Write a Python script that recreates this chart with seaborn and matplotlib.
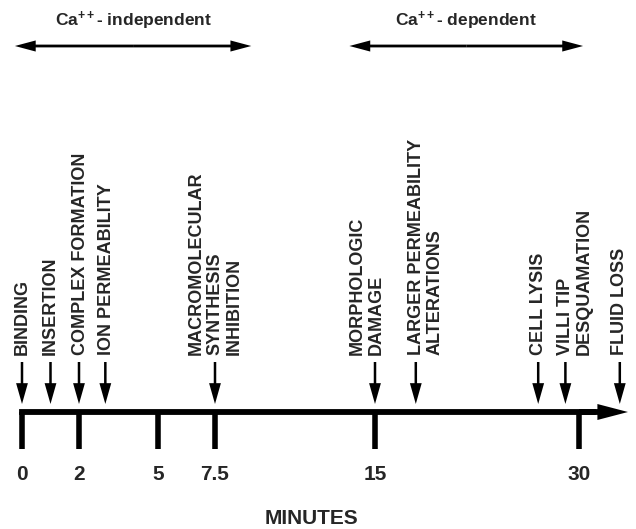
# Timeline of toxin action - Ca++ independent / dependent events

import numpy as np
import matplotlib
matplotlib.use("Agg")
import matplotlib.pyplot as plt
import seaborn as sns

# Events along the time axis (minutes)
event_minutes = [0, 1, 2, 3, 7.5, 15, 18, 27, 29, 33]
event_labels = ['BINDING', 'INSERTION', 'COMPLEX FORMATION', 'ION PERMEABILITY',
                'MACROMOLECULAR\nSYNTHESIS\nINHIBITION', 'MORPHOLOGIC\nDAMAGE',
                'LARGER PERMEABILITY\nALTERATIONS', 'CELL LYSIS',
                'VILLI TIP\nDESQUAMATION', 'FLUID LOSS']
label_shift = [0, 0, 1, 1, 0, -6, 7, 0, 7, 0]  # points, nudge of each label block

# Axis ticks
tick_minutes = [0, 2, 5, 7.5, 15, 30]
tick_labels = ['0', '2', '5', '7.5', '15', '30']

# Ca++ phases (minutes)
ca_labels = ['Ca$^{++}$- independent', 'Ca$^{++}$- dependent']
ca_start = [-0.25, 13.8]
ca_end = [9.2, 30.3]
axis_end = 33.6

# the time axis is not linear: each segment between ticks has its own spacing
knot_min = [-10, 0, 2, 5, 7.5, 15, 30, 45]
knot_pos = [-263, 22, 79, 158, 215, 375, 579, 783]


def fwd(v):
    return np.interp(v, knot_min, knot_pos)


def inv(v):
    return np.interp(v, knot_pos, knot_min)


sns.set_theme(style="white")
plt.rcParams['font.family'] = ['Liberation Sans', 'DejaVu Sans']
plt.rcParams['font.weight'] = 'bold'
plt.rcParams['mathtext.fontset'] = 'custom'
plt.rcParams['mathtext.rm'] = 'Liberation Sans:bold'
plt.rcParams['mathtext.it'] = 'Liberation Sans:bold'
plt.rcParams['mathtext.bf'] = 'Liberation Sans:bold'

fig = plt.figure(figsize=(6.36, 5.29), dpi=100)
ax = fig.add_axes([0, 0, 1, 1])
ax.set_xscale('function', functions=(fwd, inv))
ax.set_xlim(inv(0), inv(636))
ax.set_ylim(529, 0)
ax.axis('off')

# main time axis with arrow head
ax.plot([0, 31], [412, 412], color='black', lw=4.2, solid_capstyle='projecting')
ax.annotate('', xy=(axis_end, 412), xytext=(30, 412),
            arrowprops=dict(arrowstyle='simple,head_length=2.2,head_width=1.15,tail_width=0.42',
                            mutation_scale=10, fc='black', ec='none', shrinkA=0, shrinkB=0))

# ticks + labels
ax.vlines(tick_minutes, 412, 449, color='black', lw=4)
for m, t in zip(tick_minutes, tick_labels):
    ax.text(m, 480, t, ha='center', va='baseline', fontsize=15, fontweight='bold')

ax.text(inv(312), 524, 'MINUTES', ha='center', va='baseline', fontsize=15, fontweight='bold')

# event arrows and labels
small_arrow = dict(arrowstyle='simple,head_length=1.5,head_width=0.85,tail_width=0.18',
                   mutation_scale=10, fc='black', ec='none', shrinkA=0, shrinkB=0)
for m, lab, dx in zip(event_minutes, event_labels, label_shift):
    ax.annotate('', xy=(m, 404), xytext=(m, 362), arrowprops=small_arrow)
    ax.annotate(lab, xy=(m, 355), xytext=(dx, 0), textcoords='offset points',
                rotation=90, ha='center', va='bottom', multialignment='left',
                fontsize=13, fontweight='bold', linespacing=1.15)

# Ca++ phase double arrows
ca_arrow = dict(arrowstyle='simple,head_length=1.5,head_width=0.8,tail_width=0.2',
                mutation_scale=10, fc='black', ec='none', shrinkA=0, shrinkB=0)
for lab, a, b in zip(ca_labels, ca_start, ca_end):
    mid = inv((fwd(a) + fwd(b)) / 2)
    for end in (a, b):
        ax.annotate('', xy=(end, 46), xytext=(mid, 46), arrowprops=ca_arrow)
    ax.text(mid, 26, lab, ha='center', va='baseline', fontsize=12.5, fontweight='bold')

plt.savefig("out.png", dpi=100)
